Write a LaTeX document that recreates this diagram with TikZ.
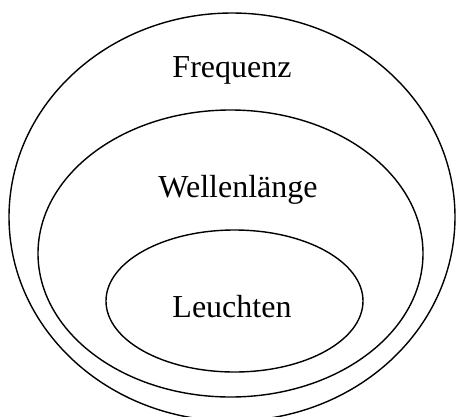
\documentclass[tikz,border=0pt]{standalone}
\usepackage{fontspec}
\setmainfont{Liberation Serif}
\usetikzlibrary{positioning}

\begin{document}
\begin{tikzpicture}[x=1pt, y=-1pt,
    ring/.style={draw=black, line width=1.4pt},
    label/.style={font=\fontsize{32}{38}\selectfont, anchor=base, inner sep=0pt}
]
\useasboundingbox (0,0) rectangle (456,416);
\clip (0,0) rectangle (456,416);

% Ellipses
\draw[ring] (232,217) ellipse [x radius=223pt, y radius=204pt];
\draw[ring] (230.5,253.5) ellipse [x radius=192.5pt, y radius=143.5pt];
\draw[ring] (234.5,301) ellipse [x radius=128.5pt, y radius=71pt];

% Labels
\node[label] (freq) at (232,77) {Frequenz};
\node[label] (wave) at (238,197) {Wellenlänge};
\node[label] (glow) at (232,317) {Leuchten};

\end{tikzpicture}
\end{document}
